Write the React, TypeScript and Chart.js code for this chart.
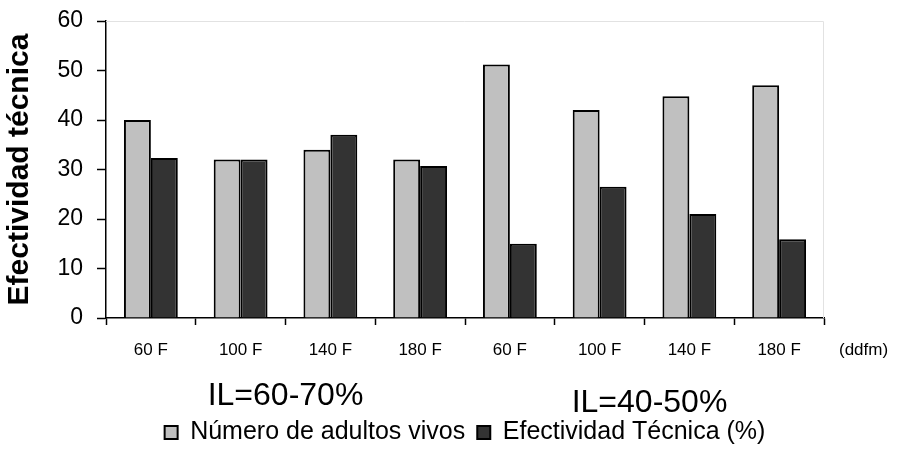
import React, { useEffect, useRef } from "react";
import { Chart, registerables } from "chart.js";

Chart.register(...registerables);

const categories = ["60 F", "100 F", "140 F", "180 F", "60 F", "100 F", "140 F", "180 F"];
const adultosVivos = [40, 32, 34, 32, 51.2, 42, 44.8, 47];
const efectividad = [32.3, 32, 37, 30.7, 15, 26.5, 21, 15.9];
const seriesNames = ["Número de adultos vivos", "Efectividad Técnica (%)"];
const groupLabels = ["IL=60-70%", "IL=40-50%"];
const unitLabel = "(ddfm)";
const yTitle = "Efectividad técnica";
const yMin = 0;
const yMax = 60;
const yStep = 10;

const FONT = '"Liberation Sans", Arial, Helvetica, sans-serif';
const CANVAS_H = 455;
const LEGEND_FONT = 25;
const LEGEND_PAD = 12;

const extras = {
  id: "extras",
  beforeDatasetsDraw(chart: any) {
    const { ctx, chartArea: a } = chart;
    ctx.save();
    ctx.strokeStyle = "#e2e2e2";
    ctx.lineWidth = 1;
    ctx.beginPath();
    ctx.moveTo(a.left, a.top + 0.5);
    ctx.lineTo(a.right - 0.5, a.top + 0.5);
    ctx.lineTo(a.right - 0.5, a.bottom);
    ctx.stroke();
    ctx.restore();
  },
  afterDraw(chart: any) {
    const { ctx } = chart;
    const x = chart.scales.x;
    ctx.save();
    ctx.fillStyle = "#000";
    ctx.textBaseline = "middle";
    ctx.font = `17px ${FONT}`;
    ctx.textAlign = "left";
    ctx.fillText(unitLabel, x.right + 15, 350);
    ctx.font = `32px ${FONT}`;
    ctx.textAlign = "center";
    const g1 = (x.getPixelForValue(0) + x.getPixelForValue(3)) / 2;
    const g2 = (x.getPixelForValue(4) + x.getPixelForValue(7)) / 2;
    ctx.fillText(groupLabels[0], g1, 396);
    ctx.fillText(groupLabels[1], g2 + 5, 403);
    ctx.restore();
  },
};

export default function App() {
  const ref = useRef<HTMLCanvasElement | null>(null);

  useEffect(() => {
    if (!ref.current) return;
    Chart.defaults.font.family = FONT;
    Chart.defaults.color = "#000";
    const chart = new Chart(ref.current, {
      type: "bar",
      data: {
        labels: categories,
        datasets: [
          {
            label: seriesNames[0],
            data: adultosVivos,
            backgroundColor: "#c0c0c0",
            borderColor: "#000",
            borderWidth: 2,
            categoryPercentage: 0.6,
            barPercentage: 1,
          },
          {
            label: seriesNames[1],
            data: efectividad,
            backgroundColor: "#333333",
            borderColor: "#000",
            borderWidth: 2,
            categoryPercentage: 0.6,
            barPercentage: 1,
          },
        ],
      },
      options: {
        responsive: false,
        maintainAspectRatio: false,
        animation: false,
        devicePixelRatio: 1,
        layout: { padding: { left: 0, right: 75, top: 21, bottom: 0 } },
        plugins: {
          tooltip: { enabled: false },
          legend: {
            position: "bottom",
            fullSize: false,
            labels: {
              boxWidth: 13,
              boxHeight: 13,
              padding: LEGEND_PAD,
              color: "#000",
              font: { size: LEGEND_FONT, family: FONT },
            },
          },
        },
        scales: {
          x: {
            offset: true,
            grid: {
              offset: true,
              drawOnChartArea: false,
              drawTicks: true,
              tickLength: 7,
              tickColor: "#000",
              tickWidth: 1.5,
            },
            border: { display: true, color: "#000", width: 1.5 },
            ticks: {
              autoSkip: false,
              maxRotation: 0,
              padding: 15,
              color: "#000",
              font: { size: 17, family: FONT },
            },
            afterFit: (scale: any) => {
              scale.height = CANVAS_H - (LEGEND_FONT + LEGEND_PAD + 10) - 318;
            },
          },
          y: {
            min: yMin,
            max: yMax,
            grid: {
              drawOnChartArea: false,
              drawTicks: true,
              tickLength: 9,
              tickColor: "#000",
              tickWidth: 1.5,
            },
            border: { display: true, color: "#000", width: 1.5 },
            ticks: {
              stepSize: yStep,
              padding: 14,
              color: "#000",
              font: { size: 23, family: FONT },
            },
            title: {
              display: true,
              text: yTitle,
              color: "#000",
              padding: { top: 2, bottom: 0 },
              font: { size: 30, weight: "bold", family: FONT },
            },
            afterFit: (scale: any) => {
              scale.width = 106;
              scale.paddingTop = 0;
              scale.paddingBottom = 0;
            },
          },
        },
      },
      plugins: [extras],
    });
    return () => chart.destroy();
  }, []);

  return (
    <div
      style={{
        position: "fixed",
        left: 0,
        top: 0,
        width: 899,
        height: 449,
        overflow: "hidden",
        background: "#fff",
      }}
    >
      <canvas ref={ref} width={899} height={CANVAS_H} style={{ display: "block" }} />
    </div>
  );
}
